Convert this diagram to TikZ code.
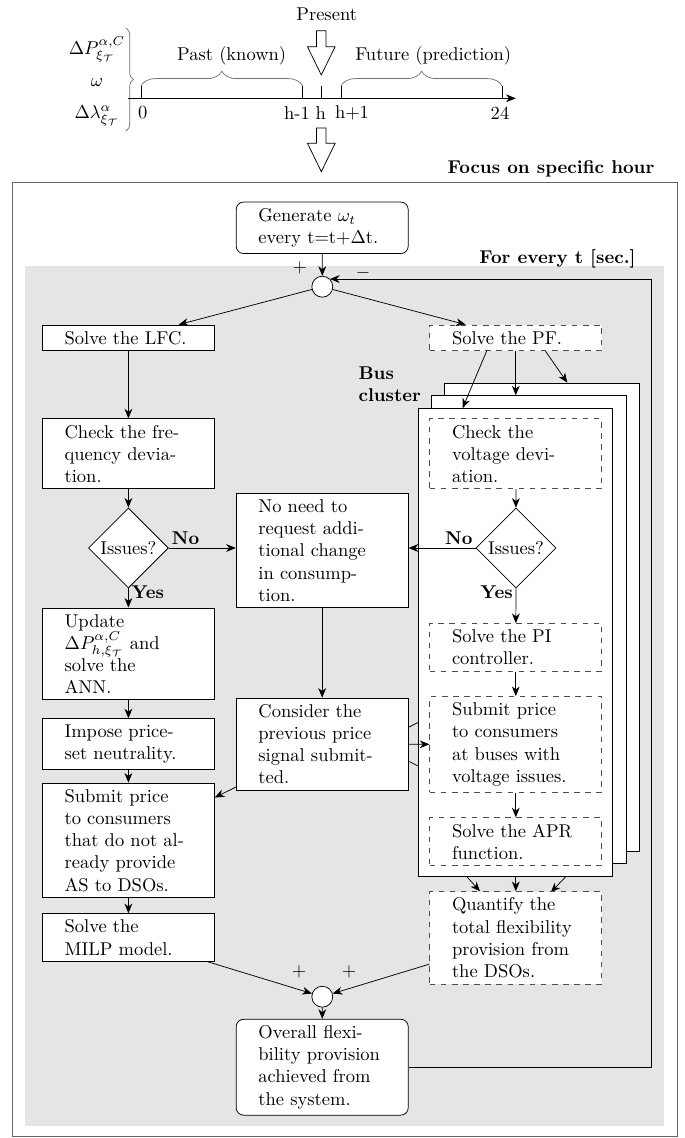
\documentclass[tikz,border=0pt]{standalone}
\usepackage{tikz}
\usetikzlibrary{arrows,arrows.meta,shapes,calc,decorations.pathreplacing}

\tikzset{
    block/.style={draw, fill=white, text width=68.9pt, inner xsep=12pt, align=left},
    dblock/.style={block, dashed, draw=black!70},
    rblock/.style={block, rounded corners=4pt},
    decision/.style={diamond, draw, fill=white, aspect=1, minimum width=43.2pt, minimum height=43.2pt, inner sep=0pt},
    sumnode/.style={circle, draw, fill=white, minimum size=11.3pt, inner sep=0pt},
    stackbox/.style={draw, fill=white, minimum width=104.8pt, minimum height=252.7pt, inner sep=0pt},
    answer/.style={font=\bfseries, inner sep=1.5pt},
    timebrace/.style={decorate, decoration={brace, amplitude=8pt}, black!55},
}

\begin{document}
\begin{tikzpicture}[x=0.54pt, y=-0.54pt, >={Stealth[length=5.2pt, width=4.2pt, inset=1.6pt]}]
    \useasboundingbox (0,0) rectangle (684,1138);

    % time line of the day
    \node (vars) at (97,80) {\renewcommand{\arraystretch}{1.45}$\begin{array}{c} \Delta P^{\alpha,C}_{\xi_{\mathcal{T}}} \\ \omega \\ \Delta\lambda^{\alpha}_{\xi_{\mathcal{T}}} \end{array}$};
    \draw[timebrace, decoration={amplitude=4pt}] (126,28) -- (126,131);
    \draw[->] (128.3,98.3) -- (515.7,98.3);
    \draw (141,98.3) -- (141,86);
    \draw (302.7,98.3) -- (302.7,86);
    \draw (321.7,98.3) -- (321.7,86);
    \draw (341,98.3) -- (341,86);
    \draw (502,98.3) -- (502,86);
    \node (t0) at (142.7,113) {0};
    \node (thm) at (297,113) {h-1};
    \node (th) at (320.7,113) {h};
    \node (thp) at (352,113) {h+1};
    \node (t24) at (500,113) {24};
    \draw[timebrace] (141,86) -- (302.7,86);
    \draw[timebrace] (341,86) -- (502,86);
    \node (past) at (231.7,56) {Past (known)};
    \node (future) at (433.3,56) {Future (prediction)};
    \node (present) at (326.7,14) {Present};
    \draw (316.6,30.7) -- (326,30.7) -- (326,46.7) -- (335.1,46.7) -- (321.3,75) -- (307.5,46.7) -- (316.6,46.7) -- cycle;
    \draw (316.6,128) -- (326,128) -- (326,143.3) -- (335.1,143.3) -- (321.3,171.7) -- (307.5,143.3) -- (316.6,143.3) -- cycle;

    % hour frame and loop area
    \node[font=\bfseries] (focus) at (551,169) {Focus on specific hour};
    \draw[black!60] (12.7,182.7) rectangle (677.5,1136.7);
    \fill[black!10] (25,266) rectangle (664.3,1126);
    \node[font=\bfseries] (every) at (557.5,259.3) {For every t [sec.]};

    \node[rblock] (generate) at (322.2,227.8) {Generate $\omega_t$\\every t=t+$\Delta$t.};
    \node[sumnode] (sum1) at (322.3,286.7) {};
    \node (plus1) at (299.7,268) {$+$};
    \node (minus1) at (363,272.7) {$-$};

    \node[block] (lfc) at (128.4,337.9) {Solve the LFC.};
    \node[dblock] (pf) at (515.8,337.9) {Solve the PF.};
    \node[block] (chkf) at (128.4,453.8) {Check the fre-\\quency devia-\\tion.};
    \node[decision] (issf) at (128.4,548) {Issues?};
    \node[block] (noneed) at (322.2,550.5) {No need to\\request addi-\\tional change\\in consump-\\tion.};
    \node[block] (update) at (128.4,653.9) {Update\\$\Delta P^{\alpha,C}_{h,\xi_{\mathcal{T}}}$ and\\solve the\\ANN.};
    \node[block] (impose) at (128.4,744.2) {Impose price-\\set neutrality.};
    \node[block] (submitl) at (128.4,840.4) {Submit price\\to consumers\\that do not al-\\ready provide\\AS to DSOs.};
    \node[block] (milp) at (128.4,937.5) {Solve the\\MILP model.};
    \node[block] (consider) at (322.2,744.2) {Consider the\\previous price\\signal submit-\\ted.};

    % bus cluster copies
    \node[font=\bfseries, align=left, anchor=west] (bus) at (352,384) {Bus\\cluster};
    \node[stackbox] (backstk) at (541.9,617) {};
    \node[stackbox] (midstk) at (528.9,629.7) {};
    \draw[->] ($(consider.east)+(0,-17)$) -- ($(midstk.west)+(0,86)$);
    \draw[->] ($(consider.east)+(0,17)$) -- ($(midstk.west)+(0,143)$);
    \draw[->] ($(backstk.south)+(48,0)$) -- ($(backstk.south)+(8.9,41)$);
    \draw[->] (midstk.south -| pf.south) -- ($(pf.south)+(0,540)$);
    \node[stackbox] (frontstk) at (515.7,642.5) {};

    \node[dblock] (chkv) at (515.8,453.8) {Check the\\voltage devi-\\ation.};
    \node[decision] (issv) at (516,548) {Issues?};
    \node[dblock] (pi) at (515.8,647.4) {Solve the PI\\controller.};
    \node[dblock] (submitr) at (515.8,744.4) {Submit price\\to consumers\\at buses with\\voltage issues.};
    \node[dblock] (apr) at (515.8,841.7) {Solve the APR\\function.};
    \node[dblock] (quantify) at (515.8,937.9) {Quantify the\\total flexibility\\provision from\\the DSOs.};

    \node[sumnode] (sum2) at (322.3,996.7) {};
    \node (plus2) at (299,971.7) {$+$};
    \node (plus3) at (349,971.7) {$+$};
    \node[rblock] (overall) at (322.2,1067.2) {Overall flexi-\\bility provision\\achieved from\\the system.};
    \coordinate (fb) at (651.7,1067.2);

    % connections
    \draw[->] (generate) -- (sum1);
    \draw[->] (sum1) -- (lfc);
    \draw[->] (sum1) -- (pf);
    \draw[->] (lfc) -- (chkf);
    \draw[->] (chkf) -- (issf);
    \draw[->] (issf.east) -- node[answer, pos=0, above right] {No} (noneed.west |- issf.east);
    \draw[->] (issf) -- node[answer, pos=0.2, right] {Yes} (update);
    \draw[->] (update) -- (impose);
    \draw[->] (impose) -- (submitl);
    \draw[->] (submitl) -- (milp);
    \draw[->] (noneed) -- (consider);
    \draw[->] (consider) -- (submitl);
    \draw[->] (consider) -- (submitr);
    \draw[->] ($(pf.south)+(-29.2,0)$) -- ($(frontstk.north)+(-53.1,0)$);
    \draw[->] (pf.south) -- (pf.south |- midstk.north);
    \draw[->] ($(pf.south)+(29.7,0)$) -- ($(backstk.north)+(25.4,0)$);
    \draw[->] (chkv) -- (issv);
    \draw[->] (issv.west) -- node[answer, pos=0, above left] {No} (noneed.east |- issv.west);
    \draw[->] (issv) -- node[answer, pos=0.1, left] {Yes} (pi);
    \draw[->] (pi) -- (submitr);
    \draw[->] (submitr) -- (apr);
    \draw[->] ($(frontstk.south)+(-48.7,0)$) -- ($(quantify.north)+(-35.8,0)$);
    \draw[->] (milp) -- (sum2);
    \draw[->] (quantify) -- (sum2);
    \draw[->] (sum2) -- (overall);
    \draw[->] (overall.east) -- (fb) -- (fb |- sum1.north east) -- (sum1.north east);
\end{tikzpicture}
\end{document}
